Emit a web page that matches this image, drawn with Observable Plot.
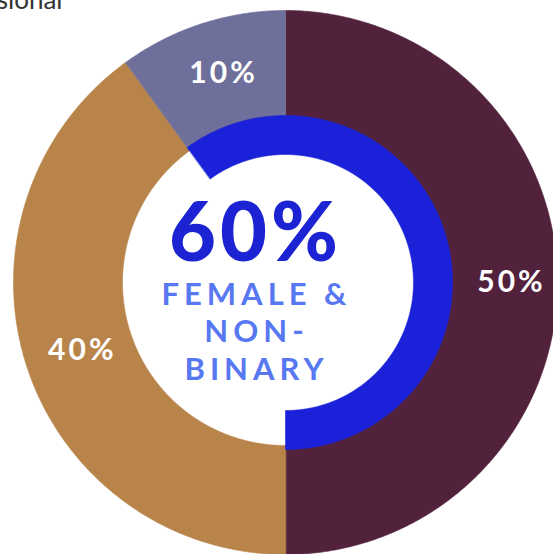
<!DOCTYPE html>
<html><head><meta charset="utf-8">
<script src="https://cdn.jsdelivr.net/npm/d3@7"></script>
<script src="https://cdn.jsdelivr.net/npm/@observablehq/plot@0.6"></script>
<style>
html,body{margin:0;padding:0;background:#fff;overflow:hidden}
</style></head><body><div id="chart"></div>
<script>
// ---- data ----
const outerCategories = ["Group A", "Group B", "Group C"];
const outerValues = [50, 40, 10];
const outerLabels = ["50%", "40%", "10%"];
const innerCategory = "Female & non-binary";
const innerValue = 60;
const centerValueLabel = "60%";
const centerCaption = "FEMALE &\nNON-\nBINARY";
const headerText = "professional";

// ---- style ----
const outerColors = ["#52223C", "#B8844A", "#6E6F9A"];
const innerColor = "#1A21D9";
const W = 553, H = 554, CX = 285, CY = 282;
const R0 = 163, R1 = 272, r0 = 128, r1 = 167;

function arcRows(key, a0, a1, ri, ro) {
  const rows = [];
  const n = Math.max(2, Math.ceil(Math.abs(a1 - a0) / 0.5));
  for (let i = 0; i <= n; ++i) {
    const a = (a0 + (a1 - a0) * i / n) * Math.PI / 180;
    rows.push({key, x: ro * Math.sin(a), y: ro * Math.cos(a)});
  }
  for (let i = n; i >= 0; --i) {
    const a = (a0 + (a1 - a0) * i / n) * Math.PI / 180;
    rows.push({key, x: ri * Math.sin(a), y: ri * Math.cos(a)});
  }
  return rows;
}

const total = d3.sum(outerValues);
let acc = 0;
const slices = outerCategories.map((c, i) => {
  const a0 = acc / total * 360; acc += outerValues[i];
  const a1 = acc / total * 360;
  return {key: c, a0, a1, label: outerLabels[i]};
});
const arcs = slices.flatMap(s => arcRows(s.key, s.a0, s.a1, R0, R1));
const innerSpan = innerValue / 100 * 360;
arcs.push(...arcRows(innerCategory, 180 - innerSpan, 180, r0, r1));

const LR = 220;
const labels = slices.map(s => {
  const a = (s.a0 + s.a1) / 2 * Math.PI / 180;
  return {label: s.label, x: LR * Math.sin(a), y: LR * Math.cos(a)};
});

const plot = Plot.plot({
  width: W, height: H,
  margin: 0,
  x: {domain: [-CX, W - CX], axis: null},
  y: {domain: [-(H - CY), CY], axis: null},
  color: {domain: [...outerCategories, innerCategory], range: [...outerColors, innerColor]},
  style: {background: "white", fontFamily: "Lato, sans-serif"},
  marks: [
    Plot.line(arcs, {x: "x", y: "y", z: "key", fill: "key", stroke: "key", strokeWidth: 0.6, curve: "linear-closed"}),
    Plot.text(labels, {x: "x", y: "y", text: "label", dx: 6, fill: "white", fontSize: 30, fontWeight: 700}),
    Plot.text([centerValueLabel], {x: () => -30, y: () => 47, text: d => d, fill: "#1B23D2", fontSize: 81, fontWeight: 900}),
    Plot.text([centerCaption], {x: () => -29, y: () => -48, text: d => d, fill: "#5878F2", fontSize: 31, fontWeight: 700, lineHeight: 1.2}),
    Plot.text([headerText], {x: () => 62 - CX, y: () => CY - 8, text: d => d, textAnchor: "end", lineAnchor: "bottom", fill: "#333", fontSize: 26})
  ]
});
const textGroups = d3.select(plot).selectAll("g[aria-label='text']").nodes();
const spacing = ["3px", "4px", "5px", "0px"];
textGroups.forEach((g, i) => d3.select(g).selectAll("text, tspan").style("letter-spacing", spacing[i]));
document.getElementById("chart").append(plot);
</script></body></html>
